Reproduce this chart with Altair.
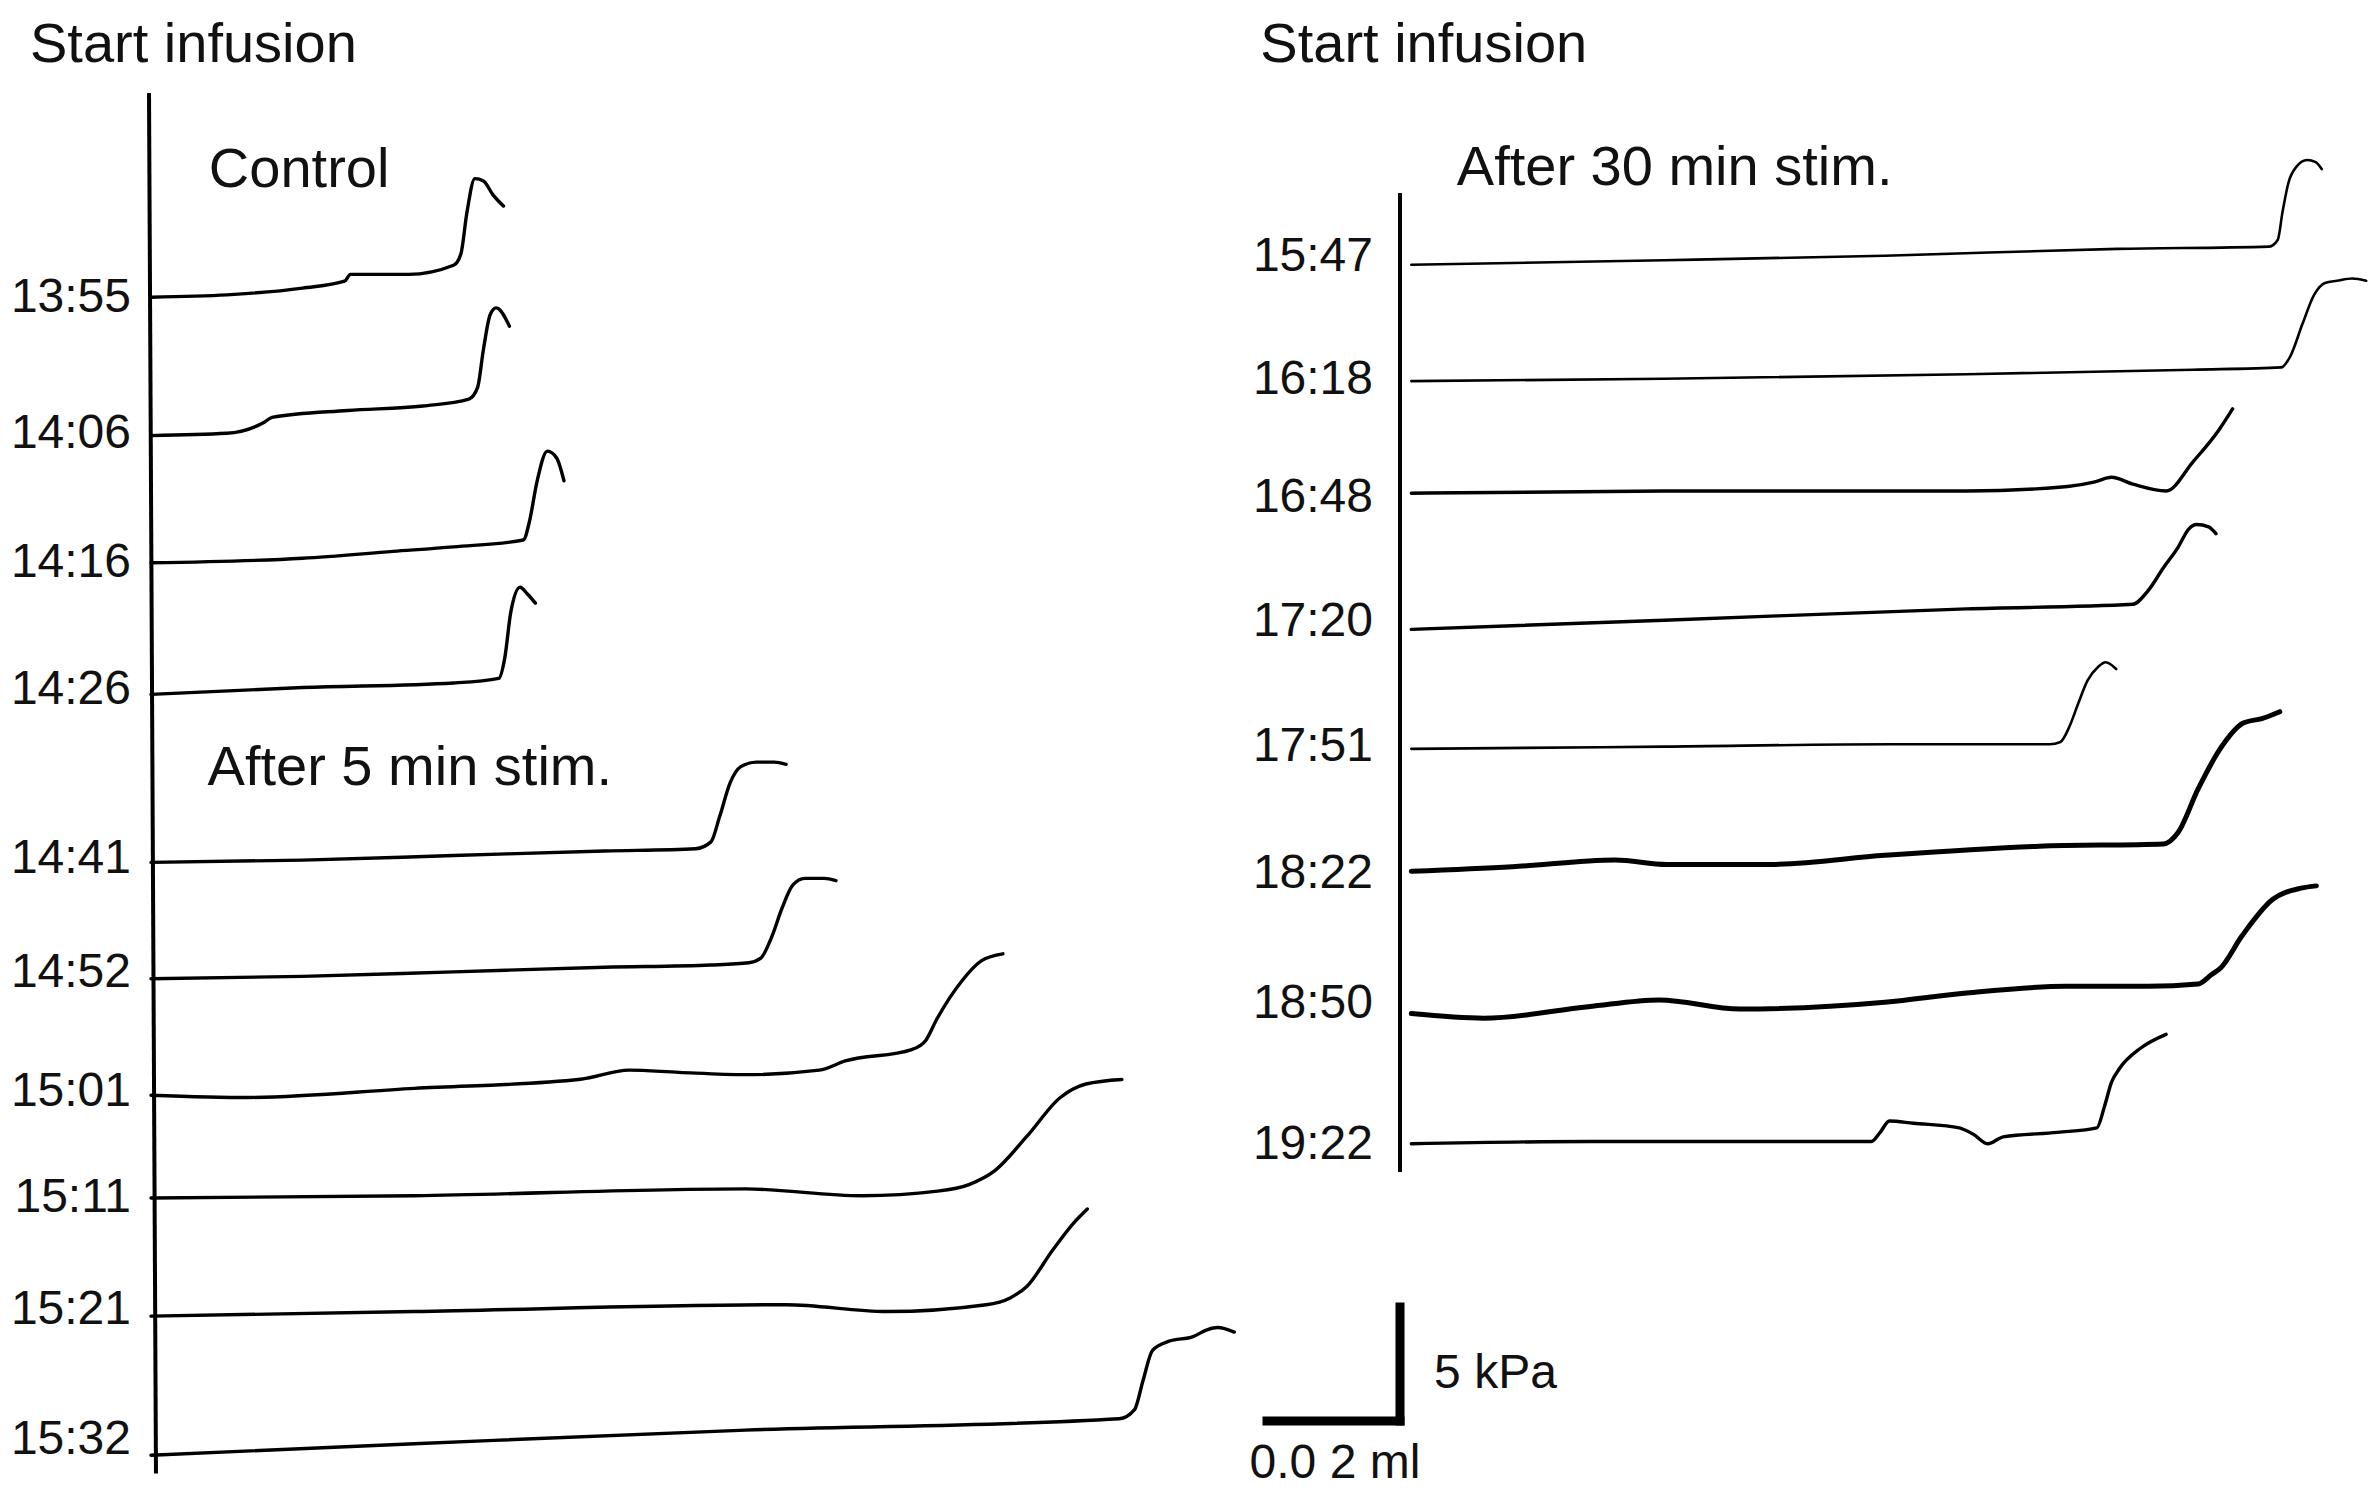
import altair as alt
import pandas as pd

# ---------------- data (volume in ml from start of infusion, pressure in kPa) -------------
left_times = ["13:55", "14:06", "14:16", "14:26", "14:41", "14:52", "15:01", "15:11", "15:21", "15:32"]
left_offsets = [52.36, 46.29, 40.71, 34.94, 27.57, 22.47, 17.36, 12.85, 7.67, 1.57]
left_label_levels = [52.33, 46.35, 40.71, 35.14, 27.71, 22.73, 17.49, 12.85, 7.93, 2.23]
left_volume = [
    [0, 0.0114, 0.0228, 0.0291, 0.0300, 0.0387, 0.0455, 0.0466, 0.0475, 0.0487, 0.0500, 0.0514, 0.0530],
    [0, 0.0114, 0.0171, 0.0182, 0.0296, 0.0409, 0.0478, 0.0491, 0.0500, 0.0510, 0.0519, 0.0539],
    [0, 0.0228, 0.0364, 0.0455, 0.0560, 0.0569, 0.0580, 0.0596, 0.0610, 0.0621],
    [0, 0.0228, 0.0455, 0.0523, 0.0532, 0.0541, 0.0555, 0.0566, 0.0578],
    [0, 0.0228, 0.0455, 0.0682, 0.0819, 0.0842, 0.0855, 0.0871, 0.0887, 0.0910, 0.0937, 0.0955],
    [0, 0.0228, 0.0455, 0.0682, 0.0842, 0.0899, 0.0917, 0.0933, 0.0949, 0.0965, 0.0983, 0.1012, 0.1030],
    [0, 0.0146, 0.0396, 0.0646, 0.0719, 0.0794, 0.0894, 0.1005, 0.1044, 0.1144, 0.1165, 0.1181, 0.1219, 0.1249, 0.1281],
    [0, 0.0396, 0.0894, 0.1069, 0.1183, 0.1231, 0.1269, 0.1317, 0.1367, 0.1406, 0.1460],
    [0, 0.0396, 0.0955, 0.1106, 0.1256, 0.1292, 0.1317, 0.1356, 0.1388, 0.1408],
    [0, 0.0396, 0.0894, 0.1456, 0.1479, 0.1492, 0.1506, 0.1531, 0.1567, 0.1588, 0.1604, 0.1629],
]
left_pressure = [
    [0, 0.1, 0.4, 0.7, 1.0, 1.0, 1.4, 1.9, 3.7, 5.2, 5.1, 4.5, 4.0],
    [0, 0.1, 0.6, 0.8, 1.1, 1.3, 1.6, 2.1, 3.8, 5.3, 5.6, 4.8],
    [0, 0.2, 0.5, 0.7, 1.0, 1.8, 3.5, 4.9, 4.6, 3.6],
    [0, 0.3, 0.5, 0.7, 1.6, 3.6, 4.7, 4.4, 4.0],
    [0, 0.1, 0.3, 0.5, 0.6, 0.9, 2.0, 3.5, 4.2, 4.4, 4.4, 4.3],
    [0, 0.1, 0.3, 0.5, 0.6, 0.7, 0.9, 1.8, 3.1, 4.1, 4.4, 4.4, 4.3],
    [0, -0.1, 0.3, 0.7, 1.1, 1.0, 0.9, 1.1, 1.5, 2.0, 2.4, 3.3, 5.0, 5.9, 6.2],
    [0, 0.1, 0.4, 0.1, 0.3, 0.6, 1.2, 2.7, 4.4, 5.0, 5.2],
    [0, 0.2, 0.5, 0.2, 0.5, 0.8, 1.3, 2.9, 4.1, 4.7],
    [0, 0.5, 1.1, 1.6, 2.0, 3.3, 4.6, 5.0, 5.2, 5.5, 5.6, 5.4],
]

right_times = ["15:47", "16:18", "16:48", "17:20", "17:51", "18:22", "18:50", "19:22"]
right_offsets = [53.78, 48.68, 43.76, 37.79, 32.55, 27.18, 20.94, 15.23]
right_label_levels = [54.11, 48.74, 43.57, 38.12, 32.62, 27.04, 21.34, 15.17]
right_volume = [
    [0.0017, 0.0397, 0.0729, 0.1079, 0.1307, 0.1320, 0.1327, 0.1336, 0.1348, 0.1364, 0.1377, 0.1386],
    [0.0017, 0.0397, 0.0852, 0.1193, 0.1325, 0.1339, 0.1357, 0.1375, 0.1391, 0.1409, 0.1432, 0.1453],
    [0.0017, 0.0397, 0.0852, 0.1004, 0.1045, 0.1070, 0.1102, 0.1152, 0.1193, 0.1232, 0.1252],
    [0.0017, 0.0397, 0.0852, 0.1102, 0.1125, 0.1148, 0.1170, 0.1186, 0.1198, 0.1216, 0.1227],
    [0.0017, 0.0397, 0.0739, 0.0977, 0.0993, 0.1007, 0.1020, 0.1034, 0.1050, 0.1061, 0.1077],
    [0.0017, 0.0169, 0.0324, 0.0401, 0.0556, 0.0729, 0.0961, 0.1148, 0.1170, 0.1200, 0.1234, 0.1268, 0.1296, 0.1323],
    [0.0017, 0.0126, 0.0283, 0.0390, 0.0511, 0.0729, 0.0852, 0.1002, 0.1125, 0.1200, 0.1220, 0.1234, 0.1266, 0.1312, 0.1355, 0.1378],
    [0.0017, 0.0283, 0.0510, 0.0709, 0.0722, 0.0736, 0.0772, 0.0841, 0.0863, 0.0884, 0.0907, 0.0989, 0.1048, 0.1059, 0.1070, 0.1082, 0.1114, 0.1152],
]
right_pressure = [
    [0, 0.2, 0.4, 0.7, 0.8, 1.1, 2.3, 3.6, 4.3, 4.6, 4.5, 4.2],
    [0, 0.1, 0.3, 0.5, 0.6, 1.1, 2.5, 3.8, 4.3, 4.4, 4.5, 4.4],
    [0, 0.1, 0.1, 0.3, 0.5, 0.7, 0.4, 0.1, 1.4, 2.8, 3.7],
    [0, 0.4, 0.9, 1.1, 1.7, 2.7, 3.6, 4.4, 4.6, 4.5, 4.2],
    [0, 0.1, 0.2, 0.2, 0.3, 1.0, 2.0, 3.0, 3.6, 3.8, 3.5],
    [0, 0.2, 0.5, 0.3, 0.3, 0.7, 1.1, 1.2, 1.7, 3.6, 5.4, 6.5, 6.7, 7.0],
    [0, -0.2, 0.3, 0.6, 0.2, 0.5, 0.9, 1.2, 1.2, 1.3, 1.7, 2.0, 3.4, 5.0, 5.5, 5.6],
    [0, 0.1, 0.1, 0.1, 0.5, 1.0, 0.9, 0.7, 0.4, 0, 0.3, 0.5, 0.7, 1.6, 2.7, 3.3, 4.2, 4.8],
]

# annotations
left_notes = ["Start infusion", "Control", "After 5 min stim."]
left_notes_ml = [-0.0182, 0.0087, 0.0085]
left_notes_kpa = [63.42, 57.96, 31.69]
right_notes = ["Start infusion", "After 30 min stim."]
right_notes_ml = [-0.0210, 0.00854]
right_notes_kpa = [63.42, 58.03]

# calibration bar: 0.02 ml by 5 kPa
bar_ml = 0.02
bar_kpa = 5.0
bar_corner_ml = 0.0
bar_corner_kpa = 3.07
bar_texts = ["5 kPa", "0.0 2 ml"]
bar_text_ml = [0.00513, -0.02262]
bar_text_kpa = [5.15, 1.17]

# vertical "start infusion" lines (ml, kPa ends)
left_line = dict(x0=-0.0003, x1=0.00075, y0=61.32, y1=0.77)
right_line = dict(x0=0.0, x1=0.0, y0=56.93, y1=13.99)

# ---------------- tables ----------------
def traces_table(times, offsets, vols, press):
    rows = []
    for t, off, vs, ps in zip(times, offsets, vols, press):
        for i, (v, p) in enumerate(zip(vs, ps)):
            rows.append(dict(time=t, idx=i, ml=v, kpa=p, level=off + p))
    return pd.DataFrame(rows)

left_df = traces_table(left_times, left_offsets, left_volume, left_pressure)
right_df = traces_table(right_times, right_offsets, right_volume, right_pressure)
left_lab = pd.DataFrame(dict(time=left_times, level=left_label_levels, ml=0.0))
right_lab = pd.DataFrame(dict(time=right_times, level=right_label_levels, ml=0.0))
left_note_df = pd.DataFrame(dict(txt=left_notes, ml=left_notes_ml, level=left_notes_kpa))
right_note_df = pd.DataFrame(dict(txt=right_notes, ml=right_notes_ml, level=right_notes_kpa))
bar_df = pd.DataFrame(dict(
    ml=[bar_corner_ml - bar_ml, bar_corner_ml],
    ml2=[bar_corner_ml, bar_corner_ml],
    level=[bar_corner_kpa, bar_corner_kpa],
    level2=[bar_corner_kpa, bar_corner_kpa + bar_kpa],
))
bar_text_df = pd.DataFrame(dict(txt=bar_texts, ml=bar_text_ml, level=bar_text_kpa))

# ---------------- scales ----------------
W, H = 2372, 1491
PX_PER_KPA = 22.8
PX_PER_ML = 6650.0
Y_DOMAIN = [0, H / PX_PER_KPA]
LEFT_DOMAIN = [-151 / PX_PER_ML, (W - 151) / PX_PER_ML]
RIGHT_DOMAIN = [-1400 / PX_PER_ML, (W - 1400) / PX_PER_ML]
FONT = "Liberation Sans"

yscale = alt.Scale(domain=Y_DOMAIN, nice=False, zero=False)
thick = ["18:22", "18:50"]
thin = ["15:47", "16:18", "17:51"]


def panel(df, lab, notes, line, domain, label_dx, extra=None):
    xs = alt.Scale(domain=domain, nice=False, zero=False)
    width_rule = alt.value(3.4, condition=[
        {"test": {"field": "time", "oneOf": thick}, "value": 5},
        {"test": {"field": "time", "oneOf": thin}, "value": 2.6},
    ])
    traces = alt.Chart(df).mark_line(color="black", interpolate="monotone",
                                     strokeJoin="round", strokeCap="round").encode(
        x=alt.X("ml:Q", scale=xs, axis=None),
        y=alt.Y("level:Q", scale=yscale, axis=None),
        detail="time:N",
        order="idx:Q",
        strokeWidth=width_rule,
    )
    vline = alt.Chart(pd.DataFrame([line])).mark_rule(color="black", strokeWidth=4).encode(
        x=alt.X("x0:Q", scale=xs, axis=None), x2="x1:Q",
        y=alt.Y("y0:Q", scale=yscale, axis=None), y2="y1:Q",
    )
    labels = alt.Chart(lab).mark_text(align="right", baseline="middle", dx=label_dx,
                                      fontSize=48, font=FONT, color="#111111").encode(
        x=alt.X("ml:Q", scale=xs, axis=None),
        y=alt.Y("level:Q", scale=yscale, axis=None),
        text="time:N",
    )
    note = alt.Chart(notes).mark_text(align="left", baseline="middle",
                                      fontSize=56, font=FONT, color="#111111").encode(
        x=alt.X("ml:Q", scale=xs, axis=None),
        y=alt.Y("level:Q", scale=yscale, axis=None),
        text="txt:N",
    )
    layers = [traces, vline, labels, note]
    if extra:
        layers += [e(xs) for e in extra]
    return alt.layer(*layers)


def bar_layer(xs):
    return alt.Chart(bar_df).mark_rule(color="black", strokeWidth=9, strokeCap="square").encode(
        x=alt.X("ml:Q", scale=xs, axis=None), x2="ml2:Q",
        y=alt.Y("level:Q", scale=yscale, axis=None), y2="level2:Q",
    )


def bar_text_layer(xs):
    return alt.Chart(bar_text_df).mark_text(align="left", baseline="middle",
                                            fontSize=48, font=FONT, color="#111111").encode(
        x=alt.X("ml:Q", scale=xs, axis=None),
        y=alt.Y("level:Q", scale=yscale, axis=None),
        text="txt:N",
    )


left = panel(left_df, left_lab, left_note_df, left_line, LEFT_DOMAIN, -20)
right = panel(right_df, right_lab, right_note_df, right_line, RIGHT_DOMAIN, -27,
              extra=[bar_layer, bar_text_layer])

chart = alt.layer(left, right).resolve_scale(x="independent").properties(
    width=W, height=H,
    autosize=alt.AutoSizeParams(type="none"),
    padding=0,
    background="white",
).configure_view(stroke=None)

chart.save("out.html", embed_options={"renderer": "svg", "actions": False})
